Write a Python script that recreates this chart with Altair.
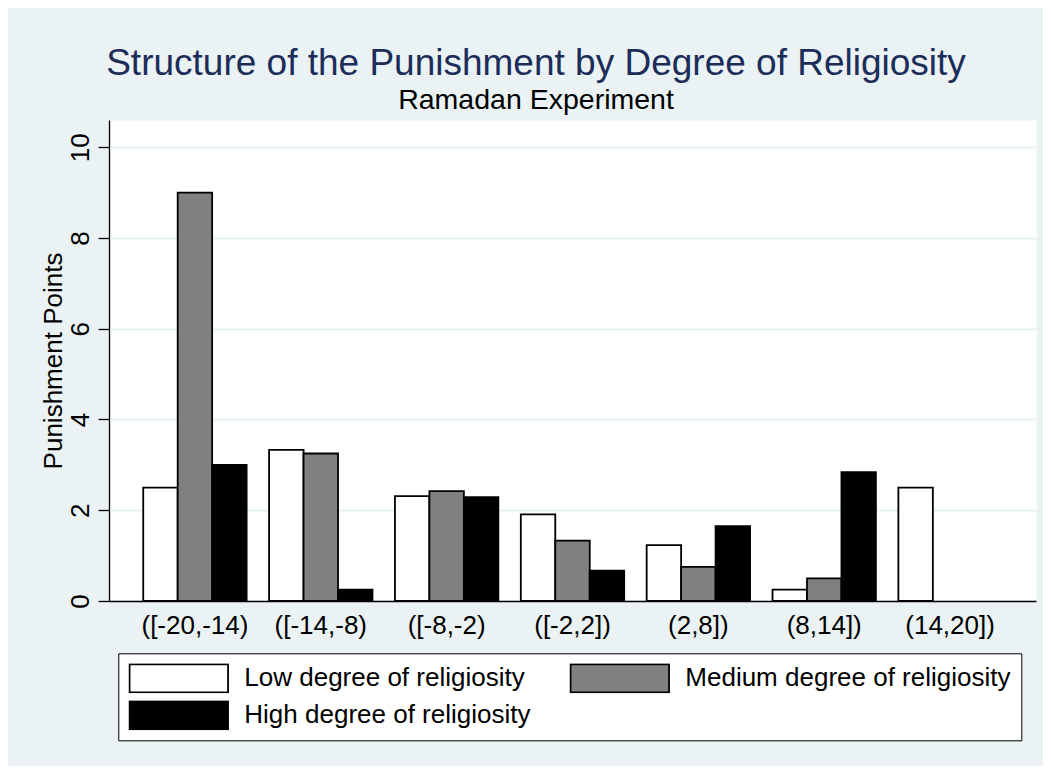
import altair as alt
import pandas as pd

categories = ["([-20,-14)", "([-14,-8)", "([-8,-2)", "([-2,2])", "(2,8])", "(8,14])", "(14,20])"]
groups = ["Low degree of religiosity", "Medium degree of religiosity", "High degree of religiosity"]
low = [2.5, 3.33, 2.31, 1.91, 1.23, 0.25, 2.5]
medium = [9.0, 3.25, 2.42, 1.33, 0.75, 0.5, None]
high = [3.0, 0.25, 2.29, 0.67, 1.65, 2.84, None]
y_ticks = [0, 2, 4, 6, 8, 10]
fills = ["#ffffff", "#808080", "#000000"]

rows = []
for g, vals in zip(groups, [low, medium, high]):
    for c, v in zip(categories, vals):
        if v is not None:
            rows.append({"interval": c, "group": g, "points": v})
df = pd.DataFrame(rows)

FONT = "Liberation Sans"

chart = alt.Chart(df).mark_bar(stroke="black", strokeWidth=1.8, opacity=1).encode(
    x=alt.X(
        "interval:N", sort=categories,
        scale=alt.Scale(paddingInner=0.1786, paddingOuter=0.272),
        axis=alt.Axis(title=None, labelAngle=0, ticks=False, labelFontSize=26,
                      labelPadding=32, labelBaseline="alphabetic", labelOverlap=False,
                      domainColor="black", domainWidth=1.3, grid=False,
                      labelColor="black", labelFont=FONT),
    ),
    xOffset=alt.XOffset("group:N", sort=groups,
                        scale=alt.Scale(paddingInner=0, paddingOuter=0)),
    y=alt.Y(
        "points:Q",
        scale=alt.Scale(domain=[0, 10.6], nice=False, zero=True),
        axis=alt.Axis(values=y_ticks, title="Punishment Points", titleFontSize=26,
                      titleFont=FONT, titleFontWeight="normal", titleColor="black",
                      titleAngle=270, titleBaseline="alphabetic", titleAlign="center",
                      titleX=-48, titleY=240.5,
                      labelAngle=270, labelAlign="center", labelBaseline="alphabetic",
                      labelPadding=10, labelFontSize=26, labelFont=FONT, labelColor="black",
                      labelOverlap=False,
                      tickSize=11, tickColor="black", tickWidth=1.3,
                      domainColor="black", domainWidth=1.3,
                      grid=True, gridColor="#E6EFF1", gridWidth=1.8),
    ),
    color=alt.Color(
        "group:N", sort=groups,
        scale=alt.Scale(domain=groups, range=fills),
        legend=alt.Legend(
            title=None, orient="none", legendX=9.3, legendY=533.3,
            direction="horizontal", columns=2,
            symbolType="M-1,-0.284L1,-0.284L1,0.284L-1,0.284Z", symbolSize=9702,
            symbolStrokeColor="black", symbolStrokeWidth=1.8, symbolOpacity=1,
            clipHeight=30,
            labelFontSize=26, labelFont=FONT, labelColor="black", labelOffset=15,
            labelLimit=600, columnPadding=38, rowPadding=7, padding=10,
            fillColor="white", strokeColor="black",
        ),
    ),
).properties(
    width=927,
    height=481,
    autosize=alt.AutoSizeParams(type="none"),
    padding={"left": 101, "top": 112, "right": 7, "bottom": 165},
    title=alt.Title(
        "Structure of the Punishment by Degree of Religiosity",
        subtitle="Ramadan Experiment",
        anchor="middle", frame="group", dx=-36.5,
        fontSize=37, font=FONT, fontWeight="normal", color="#1C2D5A",
        subtitleFontSize=28.5, subtitleFont=FONT, subtitleColor="black",
        subtitleFontWeight="normal", offset=5, subtitlePadding=3,
    ),
).configure(
    background="#EAF2F3",
).configure_view(
    fill="white", stroke="transparent",
)

chart.save("out.html", embed_options={"renderer": "svg", "actions": False})
